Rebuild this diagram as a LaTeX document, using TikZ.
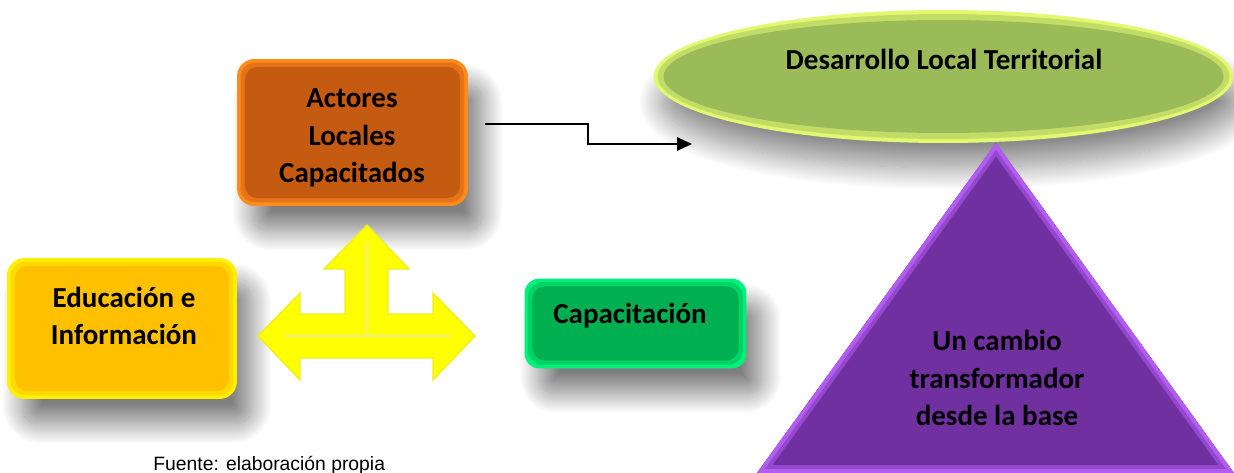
\documentclass[tikz,border=0pt]{standalone}
\usepackage{fontspec}
\setmainfont{Carlito}
\newfontfamily\fuentefont{Liberation Sans}
\usetikzlibrary{shapes.geometric}
\usetikzlibrary{shadows.blur}
\usetikzlibrary{arrows.meta}
\definecolor{actMid}{HTML}{C55A11}
\definecolor{actEdge}{HTML}{FF8A1E}
\definecolor{eduMid}{HTML}{FFC000}
\definecolor{eduEdge}{HTML}{FFF000}
\definecolor{capMid}{HTML}{00B050}
\definecolor{capEdge}{HTML}{00F07A}
\definecolor{dltMid}{HTML}{9BBB59}
\definecolor{dltEdge}{HTML}{E2F870}
\definecolor{triMid}{HTML}{7030A0}
\definecolor{triEdge}{HTML}{B25CF2}
\definecolor{flechaFill}{HTML}{FFFF00}
\definecolor{flechaEdge}{HTML}{EEEE22}
\definecolor{flechaLine}{HTML}{F6F650}
\newcommand{\lblfont}{\bfseries\fontsize{16.5}{21.3}\selectfont}

\begin{document}
\begin{tikzpicture}[x=0.02cm,y=-0.02cm,
    boxshadow/.style={blur shadow={shadow xshift=0.3cm, shadow yshift=-0.5cm, shadow blur radius=0.4cm, shadow opacity=50, shadow blur steps=30}},
    bevelbox/.style 2 args={rectangle, rounded corners=0.35cm, fill=#2, boxshadow,
      path picture={
        \fill[#1!45!#2, rounded corners=0.3cm]
          ([shift={(2pt,-2pt)}]path picture bounding box.north west) rectangle ([shift={(-2pt,2pt)}]path picture bounding box.south east);
        \fill[#1, rounded corners=0.25cm]
          ([shift={(4.5pt,-4.5pt)}]path picture bounding box.north west) rectangle ([shift={(-4.5pt,4.5pt)}]path picture bounding box.south east);
      }},
    lbl/.style={font=\lblfont, align=center, inner sep=0pt}]
          \useasboundingbox (0,0) rectangle (1234,473);

          % objetivo
          \node[ellipse, fill=dltEdge, minimum width=11.6cm, minimum height=2.66cm,
                blur shadow={shadow xshift=0.15cm, shadow yshift=-0.5cm, shadow blur radius=0.45cm, shadow opacity=45, shadow blur steps=30},
                path picture={
                  \fill[dltMid!45!dltEdge] (path picture bounding box.center) ellipse [x radius=5.72cm, y radius=1.25cm];
                  \fill[dltMid] (path picture bounding box.center) ellipse [x radius=5.6cm, y radius=1.13cm];
                }]
                (dlt) at (943.5,76.5) {};
          \node[lbl, anchor=base] (dlt txt) at (944,70) {Desarrollo Local Territorial};

          \coordinate (tri top) at (996,143);
          \coordinate (tri left) at (757,473);
          \coordinate (tri right) at (1234,473);
          \begin{scope}
            \clip (tri top) -- (tri left) -- (tri right) -- cycle;
            \fill[triMid] (tri top) -- (tri left) -- (tri right) -- cycle;
            \draw[triMid!45!triEdge, line width=9pt] (tri top) -- (tri left) -- (tri right) -- cycle;
            \draw[triEdge, line width=4.5pt] (tri top) -- (tri left) -- (tri right) -- cycle;
          \end{scope}
          \node[lbl] (tri txt) at (997,378) {Un cambio\\transformador\\desde la base};

          % cajas
          \node[bevelbox={actMid}{actEdge}, minimum width=4.62cm, minimum height=2.94cm] (act) at (352.5,132.5) {};
          \node[lbl] (act txt) at (352,138) {Actores\\Locales\\Capacitados};

          \node[bevelbox={eduMid}{eduEdge}, minimum width=4.6cm, minimum height=2.82cm] (edu) at (122,328.5) {};
          \node[lbl] (edu txt) at (124,316) {Educación e\\Información};

          \node[bevelbox={capMid}{capEdge}, rounded corners=0.3cm, minimum width=4.44cm, minimum height=1.8cm] (cap) at (635.5,323.5) {};
          \node[lbl, anchor=base] (cap txt) at (630,323) {Capacitación};

          % flecha triple
          \filldraw[fill=flechaFill, draw=flechaEdge, line width=0.8pt, line join=miter]
            (258,336) -- (300,293) -- (300,314) -- (345,314) -- (345,269) -- (324,269) -- (367,225)
            -- (409,269) -- (388,269) -- (388,314) -- (433,314) -- (433,293) -- (475,336)
            -- (433,380) -- (433,358) -- (300,358) -- (300,380) -- cycle;
          \draw[flechaLine, line width=2pt] (285,336) -- (450,336) (367,242) -- (367,336);

          % conector
          \coordinate (flow start) at (485,124);
          \coordinate (flow bend) at (588,144);
          \coordinate (flow end) at (692,144);
          \draw[-{Triangle[length=0.3cm,width=0.27cm]}, line width=0.8pt] (flow start) -| (flow bend) -- (flow end);

          \node[anchor=base west, inner sep=0pt, font=\fuentefont\fontsize{11}{13}\selectfont] (fuente) at (153,470) {Fuente: elaboración propia};
        \end{tikzpicture}
\end{document}
